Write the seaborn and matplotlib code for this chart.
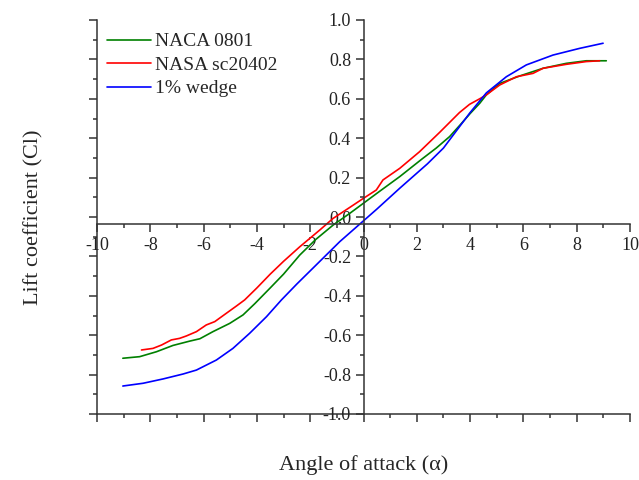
import numpy as np
import pandas as pd
import matplotlib
matplotlib.use("Agg")
import matplotlib.pyplot as plt
import seaborn as sns
from matplotlib.ticker import MultipleLocator, FormatStrFormatter

# ---------------- data ----------------
naca_alpha = [-9.03, -8.4, -7.77, -7.15, -6.52, -6.14, -5.65, -5.02, -4.52, -4.08,
              -3.5, -3.0, -2.39, -1.8, -1.14, -0.5, 0.0, 0.6, 1.36, 2.2, 2.73,
              3.23, 3.61, 4.0, 4.36, 4.61, 5.11, 5.86, 6.74, 7.61, 8.36, 9.11]
naca_cl = [-0.717, -0.709, -0.684, -0.652, -0.630, -0.618, -0.582, -0.540, -0.497, -0.440,
           -0.360, -0.290, -0.193, -0.115, -0.041, 0.020, 0.070, 0.130, 0.205, 0.295, 0.350,
           0.408, 0.465, 0.525, 0.577, 0.620, 0.678, 0.716, 0.755, 0.780, 0.793, 0.793]

nasa_alpha = [-8.33, -7.9, -7.58, -7.21, -6.9, -6.65, -6.27, -5.9, -5.58, -5.15, -4.77,
              -4.46, -4.0, -3.5, -3.0, -2.39, -1.64, -1.14, -0.5, 0.0, 0.48, 0.73, 1.36,
              2.1, 2.86, 3.23, 3.6, 3.98, 4.36, 4.61, 5.11, 5.74, 6.36, 6.74, 7.61, 8.36, 8.86]
nasa_cl = [-0.675, -0.667, -0.650, -0.624, -0.616, -0.604, -0.582, -0.548, -0.531, -0.489, -0.452,
           -0.421, -0.360, -0.290, -0.225, -0.151, -0.066, -0.007, 0.050, 0.095, 0.137, 0.188, 0.247,
           0.331, 0.430, 0.480, 0.530, 0.572, 0.600, 0.620, 0.670, 0.712, 0.729, 0.755, 0.775, 0.789, 0.793]

wedge_alpha = [-9.03, -8.27, -7.52, -6.77, -6.27, -5.52, -4.9, -4.27, -3.64, -3.08, -2.5,
               -1.9, -0.89, -0.14, 0.5, 1.36, 2.4, 3.0, 3.5, 4.0, 4.61, 5.36, 6.11, 7.11,
               8.11, 8.99]
wedge_cl = [-0.858, -0.844, -0.822, -0.797, -0.777, -0.726, -0.667, -0.590, -0.506, -0.421, -0.340,
            -0.260, -0.125, -0.036, 0.040, 0.146, 0.270, 0.350, 0.440, 0.530, 0.630, 0.712, 0.772, 0.822,
            0.856, 0.882]

series_names = ["NACA 0801", "NASA sc20402", "1% wedge"]
series_colors = ["#008000", "#ff0000", "#0000ff"]

x_ticks = list(range(-10, 11, 2))
y_ticks = [-1.0, -0.8, -0.6, -0.4, -0.2, 0.0, 0.2, 0.4, 0.6, 0.8, 1.0]

df = pd.concat([
    pd.DataFrame({"alpha": naca_alpha, "cl": naca_cl, "airfoil": series_names[0]}),
    pd.DataFrame({"alpha": nasa_alpha, "cl": nasa_cl, "airfoil": series_names[1]}),
    pd.DataFrame({"alpha": wedge_alpha, "cl": wedge_cl, "airfoil": series_names[2]}),
], ignore_index=True)

# ---------------- style ----------------
sns.set_style("ticks")
plt.rcParams["font.family"] = ["Liberation Serif", "DejaVu Serif"]
plt.rcParams["axes.unicode_minus"] = False

W, H = 639, 480
fig = plt.figure(figsize=(W / 100, H / 100), dpi=100)
rect = [97 / W, 1 - 414 / H, (630 - 97) / W, (414 - 20) / H]

spine_col = "#333333"
lw_sp = 1.1

# frame axes (left & bottom box with mirror ticks, no labels)
frame = fig.add_axes(rect, facecolor="none")
frame.set_xlim(-10, 10)
frame.set_ylim(-1, 1)
for s in ["top", "right"]:
    frame.spines[s].set_visible(False)
for s in ["left", "bottom"]:
    frame.spines[s].set_color(spine_col)
    frame.spines[s].set_linewidth(lw_sp)
frame.xaxis.set_major_locator(MultipleLocator(2))
frame.xaxis.set_minor_locator(MultipleLocator(1))
frame.yaxis.set_major_locator(MultipleLocator(0.2))
frame.yaxis.set_minor_locator(MultipleLocator(0.1))
frame.tick_params(which="both", direction="out", color=spine_col, width=lw_sp,
                  labelbottom=False, labelleft=False)
frame.tick_params(which="major", length=6)
frame.tick_params(which="minor", length=3)

# main axes with centred spines
ax = fig.add_axes(rect, facecolor="none")
sns.lineplot(data=df, x="alpha", y="cl", hue="airfoil", hue_order=series_names,
             palette=series_colors, sort=False, estimator=None, linewidth=1.2, ax=ax)
ax.set_xlim(-10, 10)
ax.set_ylim(-1, 1)
ax.spines["top"].set_visible(False)
ax.spines["right"].set_visible(False)
ax.spines["left"].set_position(("data", 0))
ax.spines["bottom"].set_position(("data", -0.037))
for s in ["left", "bottom"]:
    ax.spines[s].set_color(spine_col)
    ax.spines[s].set_linewidth(lw_sp)
ax.set_xticks(x_ticks)
ax.set_yticks(y_ticks)
ax.xaxis.set_minor_locator(MultipleLocator(1))
ax.yaxis.set_minor_locator(MultipleLocator(0.1))
ax.yaxis.set_major_formatter(FormatStrFormatter("%.1f"))
ax.tick_params(which="both", direction="out", color=spine_col, width=lw_sp,
               labelsize=13, labelcolor="#222222")
ax.tick_params(which="major", length=6, pad=3)
ax.tick_params(which="minor", length=3)

ax.set_xlabel("Angle of attack (α)", fontsize=16)
ax.set_ylabel("Lift coefficient (Cl)", fontsize=16)
ax.xaxis.set_label_coords(0.5, -0.105)
ax.yaxis.set_label_coords(-0.100, 0.5)

leg = ax.legend(loc="upper left", bbox_to_anchor=(0.0, 0.992), frameon=False,
                fontsize=14, handlelength=2.3, handletextpad=0.2,
                labelspacing=0.3, borderaxespad=0.3, borderpad=0.2)
for line in leg.get_lines():
    line.set_linewidth(1.2)

fig.savefig("out.png", dpi=100)
